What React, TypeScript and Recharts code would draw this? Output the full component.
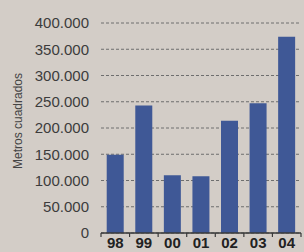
import { BarChart, Bar, XAxis, YAxis, CartesianGrid, Label } from 'recharts';

const years = ['98', '99', '00', '01', '02', '03', '04'];
const metros = [149000, 243000, 110000, 108000, 214000, 247000, 374000];
const yTicks = [0, 50000, 100000, 150000, 200000, 250000, 300000, 350000, 400000];

const data = years.map((y, i) => ({ year: y, value: metros[i] }));

// miles con punto, como en el original
const fmt = (v: number) => (v === 0 ? '0' : `${Math.round(v / 1000)}.000`);

function YearTick(props: any) {
  const { x, y, payload, index, width } = props;
  const half = payload?.offset ?? width / years.length / 2;
  return (
    <g>
      <line x1={x - half} x2={x - half} y1={y - 8} y2={y - 4} stroke="#3a3a3a" strokeWidth={1.2} />
      {index === years.length - 1 && (
        <line x1={x + half} x2={x + half} y1={y - 8} y2={y - 4} stroke="#3a3a3a" strokeWidth={1.2} />
      )}
      <text
        x={x}
        y={y + 7}
        textAnchor="middle"
        fill="#222"
        fontSize={15}
        fontWeight="bold"
        fontFamily="'Liberation Sans', Arial, sans-serif"
      >
        {payload.value}
      </text>
    </g>
  );
}

function AxisTitle(props: any) {
  const { viewBox } = props;
  const cx = 18;
  const cy = viewBox.y + viewBox.height / 2 - 7;
  return (
    <text
      x={cx}
      y={cy}
      transform={`rotate(-90 ${cx} ${cy})`}
      textAnchor="middle"
      dominantBaseline="central"
      fill="#444"
      fontSize={12}
      fontFamily="'Liberation Sans', Arial, sans-serif"
    >
      Metros cuadrados
    </text>
  );
}

export default function App() {
  return (
    <div style={{ position: 'fixed', left: 0, top: 0, width: 304, height: 252, background: '#d3cdc7' }}>
      <BarChart
        width={304}
        height={252}
        data={data}
        margin={{ top: 23, right: 3, bottom: 0, left: 0 }}
        barCategoryGap="20%"
      >
        <CartesianGrid vertical={false} stroke="#6e6e6e" strokeDasharray="3 2" />
        <XAxis
          dataKey="year"
          height={19}
          axisLine={{ stroke: '#3a3a3a', strokeWidth: 1.5 }}
          tickLine={false}
          tick={<YearTick />}
          interval={0}
        />
        <YAxis
          width={101}
          domain={[0, 400000]}
          ticks={yTicks}
          tickFormatter={fmt}
          axisLine={false}
          tickLine={false}
          tickMargin={6}
          tick={{ fill: '#3c3c3c', fontSize: 15, fontFamily: "'Liberation Sans', Arial, sans-serif" }}
        >
          <Label content={<AxisTitle />} />
        </YAxis>
        <Bar dataKey="value" fill="#3f5896" isAnimationActive={false} />
      </BarChart>
    </div>
  );
}
